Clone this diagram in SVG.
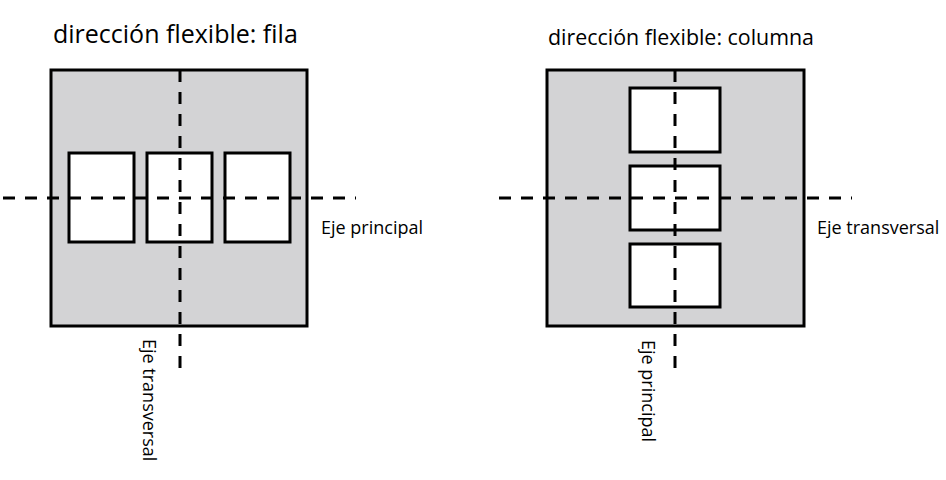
<svg xmlns="http://www.w3.org/2000/svg" width="946" height="480" viewBox="0 0 946 480">
<style>
.container{fill:#d3d3d5;stroke:#000;stroke-width:3}
.item{fill:#fff;stroke:#000;stroke-width:3}
.axis{stroke:#000;stroke-width:3;stroke-dasharray:12 10;fill:none}
.title{font-family:"Open Sans","Noto Sans",sans-serif;fill:#000}
.label{font-family:"Open Sans","Noto Sans",sans-serif;font-size:18px;fill:#000}
</style>
<rect width="946" height="480" fill="#fff"/>
<g id="row-panel">
  <text class="title" x="53" y="43" font-size="25">dirección flexible: fila</text>
  <rect id="row-container" class="container" x="51" y="70" width="256" height="256"/>
  <rect id="row-item-1" class="item" x="69" y="153" width="65" height="89"/>
  <rect id="row-item-2" class="item" x="147" y="153" width="65" height="89"/>
  <rect id="row-item-3" class="item" x="225" y="153" width="65" height="89"/>
</g>
<g id="column-panel">
  <text class="title" x="548" y="45" font-size="21.4">dirección flexible: columna</text>
  <rect id="col-container" class="container" x="547" y="70" width="257" height="256"/>
  <rect id="col-item-1" class="item" x="630" y="88" width="90" height="64"/>
  <rect id="col-item-2" class="item" x="630" y="166" width="90" height="64"/>
  <rect id="col-item-3" class="item" x="630" y="244" width="90" height="63"/>
</g>
<g id="connectors">
  <line class="axis" x1="3" y1="198" x2="356" y2="198"/>
  <line class="axis" x1="180" y1="70" x2="180" y2="376"/>
  <line class="axis" x1="499" y1="198" x2="852" y2="198"/>
  <line class="axis" x1="675" y1="70" x2="675" y2="376"/>
</g>
<g id="labels">
  <text class="label" x="321" y="234" font-size="18.6">Eje principal</text>
  <text class="label" x="817" y="234">Eje transversal</text>
  <text class="label" transform="translate(143,339) rotate(90)">Eje transversal</text>
  <text class="label" transform="translate(642,340) rotate(90)">Eje principal</text>
</g>
</svg>
